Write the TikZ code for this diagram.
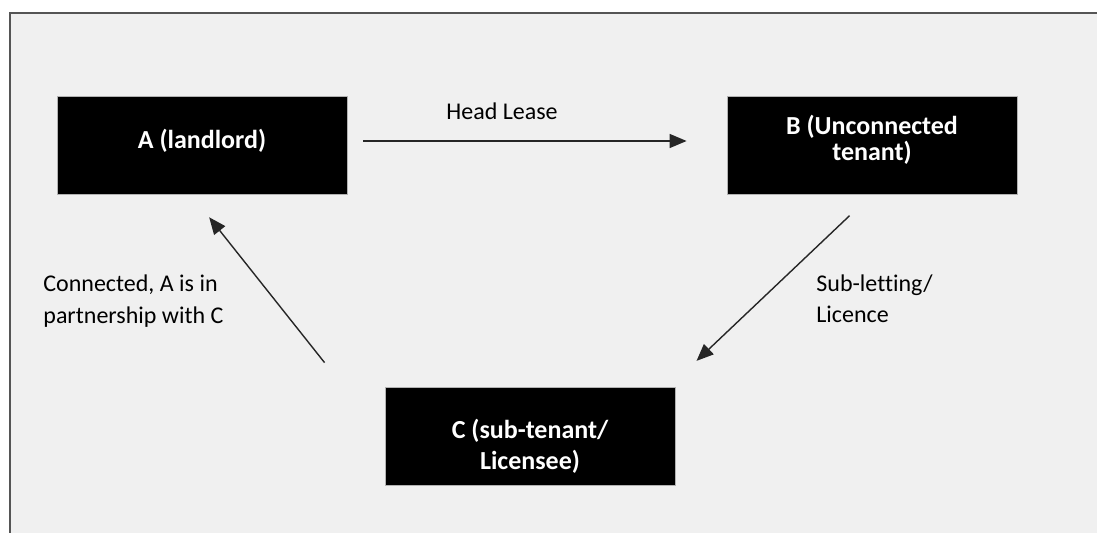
\documentclass[tikz,border=0pt]{standalone}
\usepackage{fontspec}
\setmainfont{Carlito}[Ligatures=NoCommon]
\usetikzlibrary{arrows.meta}
\definecolor{panelgray}{HTML}{F0F0F0}
\definecolor{framegray}{HTML}{555555}
\begin{document}
\begin{tikzpicture}[
                x=0.5pt, y=-0.5pt,
                box/.style={
                    draw=gray!60,
                    fill=black,
                    rectangle,
                    inner ysep=0pt,
                    minimum width=145pt,
                    minimum height=49pt,
                    align=center,
                    text=white,
                    font=\fontsize{13pt}{13.4pt}\selectfont\bfseries
                },
                note/.style={
                    anchor=west,
                    align=left,
                    inner sep=0pt,
                    font=\fontsize{12pt}{15.75pt}\selectfont
                },
                arrow/.style={
                    -{Triangle[length=8.5pt,width=7pt]},
                    line width=0.7pt,
                    draw=black!85
                }
            ]
                \useasboundingbox (0,0) rectangle (1097,533);
                \fill[white] (0,0) rectangle (1097,533);
                \fill[panelgray] (10,13) rectangle (1097,533);
                \draw[framegray, line width=1.2pt] (10,533) -- (10,13) -- (1097,13);

                \node[box, text height=10pt, text depth=6pt] (landlord) at (202,145)  {A (landlord)};
                \node[box, text height=22pt, text depth=6pt] (tenant) at (872,145)    {B (Unconnected\\tenant)};
                \node[box, text height=40pt, text depth=6pt, font=\fontsize{13pt}{15.5pt}\selectfont\bfseries] (subtenant) at (530,436) {C (sub-tenant/\\Licensee)};

                \node[note, anchor=center] (leaselbl) at (502,111) {Head Lease};
                \node[note] (sublbl) at (816,299) {Sub-letting/\\Licence};
                \node[note] (partnerlbl) at (43,301) {Connected, A is in\\partnership with C};

                \draw[arrow, shorten <=8pt, shorten >=20pt] ([yshift=2pt]landlord.east) -- ([yshift=2pt]tenant.west);
                \draw[arrow, shorten <=15.5pt, shorten >=18.7pt] (tenant.south) -- ([xshift=-3pt]subtenant.north east);
                \draw[arrow, shorten <=15.3pt, shorten >=14.6pt] ([xshift=-20.5pt]subtenant.north west) -- ([xshift=-5.5pt]landlord.south);
        \end{tikzpicture}
\end{document}
